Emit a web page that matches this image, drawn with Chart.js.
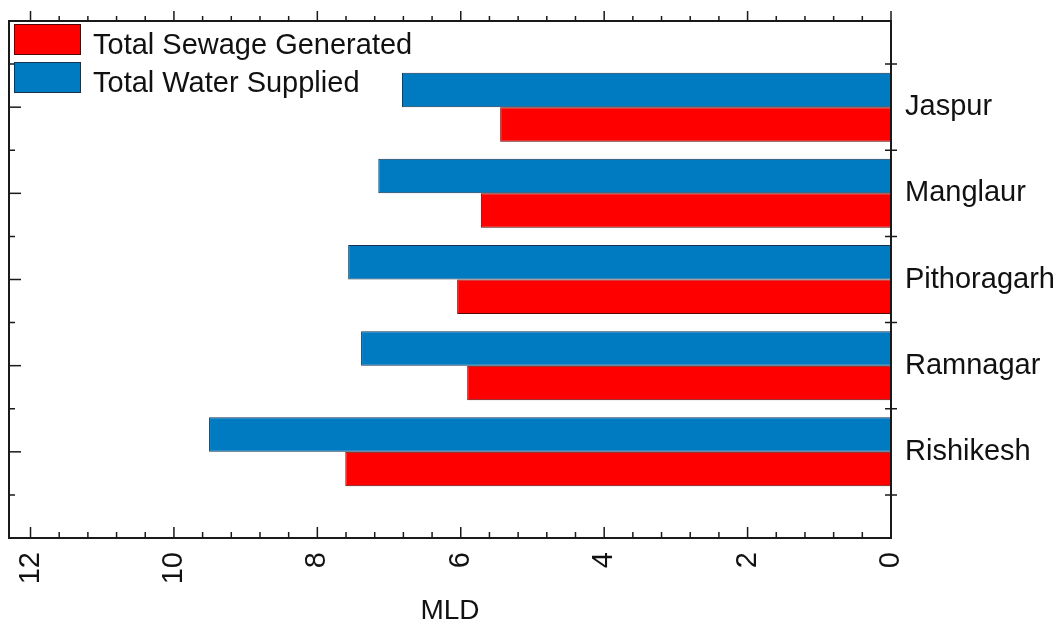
<!DOCTYPE html>
<html>
<head>
<meta charset="utf-8">
<script src="https://cdn.jsdelivr.net/npm/chart.js@4/dist/chart.umd.min.js"></script>
<style>
  body { margin: 0; background: #fff; }
  #wrap { width: 1061px; height: 628px; }
</style>
</head>
<body>
<div id="wrap"><canvas id="chart"></canvas></div>
<script>
const cities = ["Jaspur", "Manglaur", "Pithoragarh", "Ramnagar", "Rishikesh"];
const waterSupplied = [6.82, 7.15, 7.57, 7.39, 9.51];
const sewageGenerated = [5.45, 5.72, 6.05, 5.91, 7.61];
const xTicks = [0, 2, 4, 6, 8, 10, 12];

// half an empty slot above and below the towns
const labels = ["", ...cities, ""];
const pad = (arr) => [null, ...arr, null];

const ink = "#1a1a1a";

// frame, tick marks and the inside legend
const framePlugin = {
    id: "frame",
    afterDraw: (chart) => {
        const ctx = chart.ctx;
        const { left, right, top, bottom } = chart.chartArea;
        const xs = chart.scales.x;
        const ys = chart.scales.y;
        ctx.save();
        ctx.strokeStyle = ink;
        ctx.lineWidth = 1.5;

        // x ticks: major every 2, minor every 0.4
        for (let i = 0; i <= 30; i++) {
            const v = i * 0.4;
            if (v > xs.max) break;
            const px = xs.getPixelForValue(v);
            const major = i % 5 === 0;
            ctx.beginPath();
            ctx.moveTo(px, top);
            ctx.lineTo(px, top - (major ? 10 : 5));
            ctx.moveTo(px, bottom);
            ctx.lineTo(px, bottom - (major ? 11 : 6));
            ctx.stroke();
        }

        // y ticks
        for (let i = 0; i < cities.length + 1; i++) {
            const b = ys.getPixelForValue(i + 0.5);
            ctx.beginPath();
            ctx.moveTo(right - 6, b);
            ctx.lineTo(right + 6, b);
            ctx.moveTo(left, b);
            ctx.lineTo(left + 6, b);
            ctx.stroke();
        }
        for (let i = 1; i <= cities.length; i++) {
            const c = ys.getPixelForValue(i);
            ctx.beginPath();
            ctx.moveTo(left, c);
            ctx.lineTo(left + 12, c);
            ctx.stroke();
        }

        ctx.lineWidth = 2;
        ctx.strokeRect(left, top, right - left, bottom - top);

        // legend, sewage first
        const order = [1, 0];
        ctx.font = "29px 'Liberation Sans', Arial, sans-serif";
        ctx.textBaseline = "alphabetic";
        ctx.textAlign = "left";
        order.forEach((di, row) => {
            const ds = chart.data.datasets[di];
            const y = top + 3 + row * 38;
            ctx.fillStyle = ds.backgroundColor;
            ctx.fillRect(14, y, 67, 31);
            ctx.lineWidth = 1;
            ctx.strokeStyle = ds.borderColor;
            ctx.strokeRect(14.5, y + 0.5, 66, 30);
            ctx.fillStyle = "#111";
            ctx.fillText(ds.label, 93, y + 30);
        });
        ctx.restore();
    },
};

new Chart(document.getElementById("chart"), {
    type: "bar",
    data: {
        labels: labels,
        datasets: [
            {
                label: "Total Water Supplied",
                data: pad(waterSupplied),
                backgroundColor: "#007ac0",
                borderColor: "#16324c",
                borderWidth: 1,
            },
            {
                label: "Total Sewage Generated",
                data: pad(sewageGenerated),
                backgroundColor: "#ff0000",
                borderColor: "#4e0808",
                borderWidth: 1,
            },
        ],
    },
    options: {
        indexAxis: "y",
        responsive: true,
        maintainAspectRatio: false,
        animation: false,
        layout: { padding: { left: 9, top: 21, right: 0, bottom: 0 } },
        datasets: { bar: { categoryPercentage: 0.8, barPercentage: 1.0 } },
        font: { family: "'Liberation Sans', Arial, sans-serif" },
        scales: {
            x: {
                type: "linear",
                reverse: true,
                min: 0,
                max: 12.3,
                afterBuildTicks: (s) => { s.ticks = xTicks.map((v) => ({ value: v })); },
                ticks: {
                    includeBounds: false,
                    stepSize: 2,
                    minRotation: 90,
                    maxRotation: 90,
                    autoSkip: false,
                    padding: 14,
                    color: "#111",
                    font: { family: "'Liberation Sans', Arial, sans-serif", size: 29 },
                },
                grid: { display: false, drawTicks: false },
                border: { display: false },
                title: {
                    display: true,
                    text: "MLD",
                    color: "#111",
                    padding: 0,
                    font: { family: "'Liberation Sans', Arial, sans-serif", size: 28 },
                },
                afterFit: (s) => { s.height = 90; s.paddingLeft = 0; s.paddingRight = 0; },
            },
            y: {
                type: "category",
                position: "right",
                offset: false,
                ticks: {
                    padding: 14,
                    autoSkip: false,
                    color: "#111",
                    font: { family: "'Liberation Sans', Arial, sans-serif", size: 29 },
                },
                grid: { display: false, drawTicks: false },
                border: { display: false },
                afterFit: (s) => { s.width = 170; s.paddingTop = 0; s.paddingBottom = 0; },
            },
        },
        plugins: {
            legend: { display: false },
            tooltip: { enabled: false },
        },
    },
    plugins: [framePlugin],
});
</script>
</body>
</html>
